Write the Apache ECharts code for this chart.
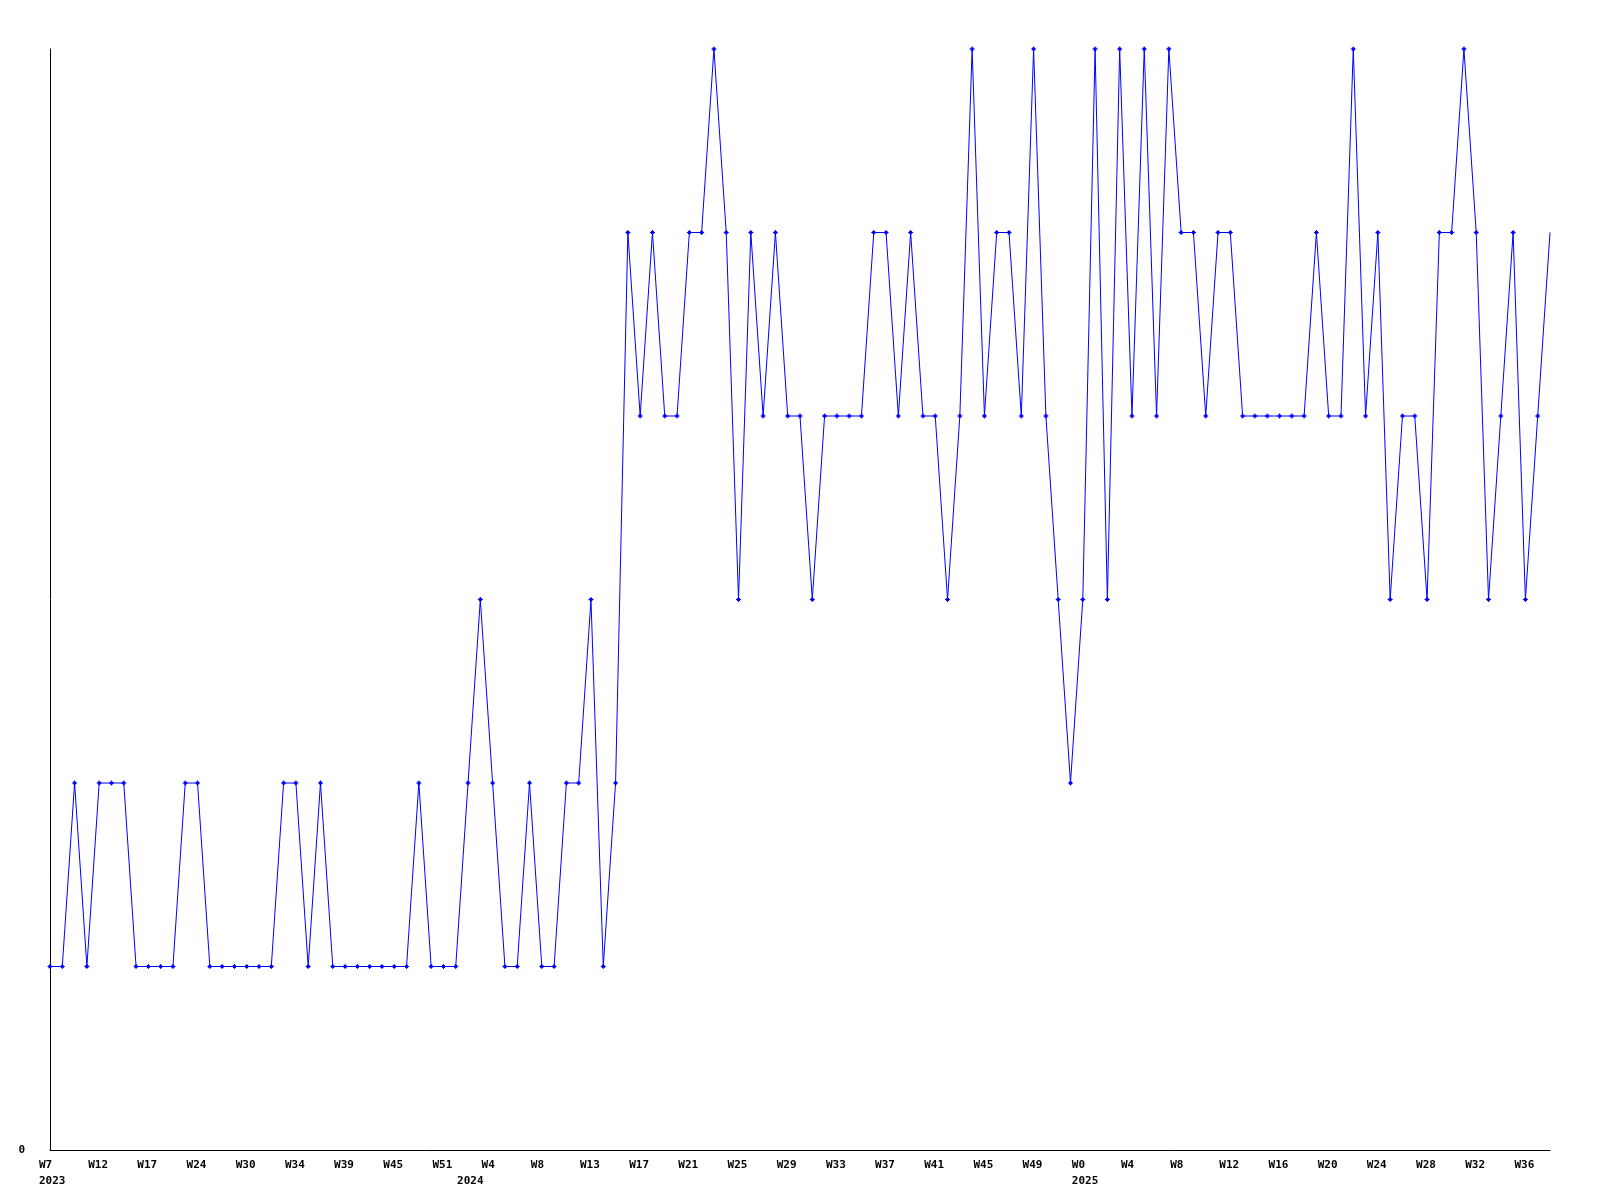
<!DOCTYPE html>
<html>
<head>
<meta charset="utf-8">
<script src="https://cdn.jsdelivr.net/npm/echarts@6/dist/echarts.min.js"></script>
<style>
html,body{margin:0;padding:0;background:#fff;}
#chart{width:1600px;height:1200px;}
</style>
</head>
<body>
<div id="chart"></div>
<script>
// Categories: year-week of each data point
const categories = [
  "2023 W7","2023 W9","2023 W10","2023 W11","2023 W12","2023 W14","2023 W15","2023 W16",
  "2023 W17","2023 W19","2023 W21","2023 W22","2023 W24","2023 W26","2023 W27","2023 W29",
  "2023 W30","2023 W31","2023 W32","2023 W33","2023 W34","2023 W35","2023 W37","2023 W38",
  "2023 W39","2023 W41","2023 W42","2023 W44","2023 W45","2023 W47","2023 W48","2023 W50",
  "2023 W51","2023 W52","2024 W1","2024 W2","2024 W4","2024 W5","2024 W6","2024 W7",
  "2024 W8","2024 W9","2024 W10","2024 W12","2024 W13","2024 W14","2024 W15","2024 W16",
  "2024 W17","2024 W18","2024 W19","2024 W20","2024 W21","2024 W22","2024 W23","2024 W24",
  "2024 W25","2024 W26","2024 W27","2024 W28","2024 W29","2024 W30","2024 W31","2024 W32",
  "2024 W33","2024 W34","2024 W35","2024 W36","2024 W37","2024 W38","2024 W39","2024 W40",
  "2024 W41","2024 W42","2024 W43","2024 W44","2024 W45","2024 W46","2024 W47","2024 W48",
  "2024 W49","2024 W50","2024 W51","2024 W52","2025 W0","2025 W1","2025 W2","2025 W3",
  "2025 W4","2025 W5","2025 W6","2025 W7","2025 W8","2025 W9","2025 W10","2025 W11",
  "2025 W12","2025 W13","2025 W14","2025 W15","2025 W16","2025 W17","2025 W18","2025 W19",
  "2025 W20","2025 W21","2025 W22","2025 W23","2025 W24","2025 W25","2025 W26","2025 W27",
  "2025 W28","2025 W29","2025 W30","2025 W31","2025 W32","2025 W33","2025 W34","2025 W35",
  "2025 W36","2025 W37","2025 W38"
];

// Series values
const values = [
  1,1,2,1,2,2,2,1,1,1,
  1,2,2,1,1,1,1,1,1,2,
  2,1,2,1,1,1,1,1,1,1,
  2,1,1,1,2,3,2,1,1,2,
  1,1,2,2,3,1,2,5,4,5,
  4,4,5,5,6,5,3,5,4,5,
  4,4,3,4,4,4,4,5,5,4,
  5,4,4,3,4,6,4,5,5,4,
  6,4,3,2,3,6,3,6,4,6,
  4,6,5,5,4,5,5,4,4,4,
  4,4,4,5,4,4,6,4,5,3,
  4,4,3,5,5,6,5,3,4,5,
  3,4,5
];

// Y tick labels shown
const yTickLabels = ["0"];

const font = '"DejaVu Sans Mono", "Liberation Mono", monospace';
const weekOf = c => c.split(' ')[1];
const yearOf = c => c.split(' ')[0];
const isYearStart = i => i === 0 || yearOf(categories[i]) !== yearOf(categories[i - 1]);

const chart = echarts.init(document.getElementById('chart'), null, {renderer: 'canvas'});
const plusPath = 'path://M2,0H3V1H4V2H5V3H4V4H3V5H2V4H1V3H0V2H1V1H2Z';

const labelTok = {
  width: 22, align: 'left', fontFamily: font, fontWeight: 'bold',
  fontSize: 11, lineHeight: 16, color: '#000'
};

chart.setOption({
  animation: false,
  backgroundColor: '#ffffff',
  grid: {left: 50, right: 50, top: 49, bottom: 50, containLabel: false},
  xAxis: {
    type: 'category',
    data: categories,
    boundaryGap: false,
    axisLine: {show: true, lineStyle: {color: '#000', width: 1}},
    axisTick: {show: false},
    splitLine: {show: false},
    axisLabel: {
      interval: (i) => i % 4 === 0 || isYearStart(i),
      margin: 7,
      align: 'center',
      fontFamily: font,
      fontWeight: 'bold',
      fontSize: 11,
      lineHeight: 16,
      color: '#000',
      rich: {w: labelTok},
      formatter: (val, i) => {
        const w = i % 4 === 0 ? weekOf(val) : ' ';
        return isYearStart(i) ? '{w|' + w + '}\n{w|' + yearOf(val) + '}' : '{w|' + w + '}';
      }
    }
  },
  yAxis: {
    type: 'value',
    min: 0,
    max: 6,
    interval: 1,
    axisLine: {show: true, lineStyle: {color: '#000', width: 1}},
    axisTick: {show: false},
    splitLine: {show: false},
    axisLabel: {
      margin: 25,
      fontFamily: font,
      fontWeight: 'bold',
      fontSize: 11,
      color: '#000',
      formatter: v => (v === 0 ? yTickLabels[0] : '')
    }
  },
  series: [{
    type: 'line',
    data: values.map((v, i) => i === values.length - 1 ? {value: v, symbol: 'none'} : v),
    symbol: plusPath,
    symbolSize: 5,
    showAllSymbol: true,
    clip: false,
    lineStyle: {color: '#0000ff', width: 1},
    itemStyle: {color: '#0000ff'},
    emphasis: {disabled: true}
  }]
});
</script>
</body>
</html>
